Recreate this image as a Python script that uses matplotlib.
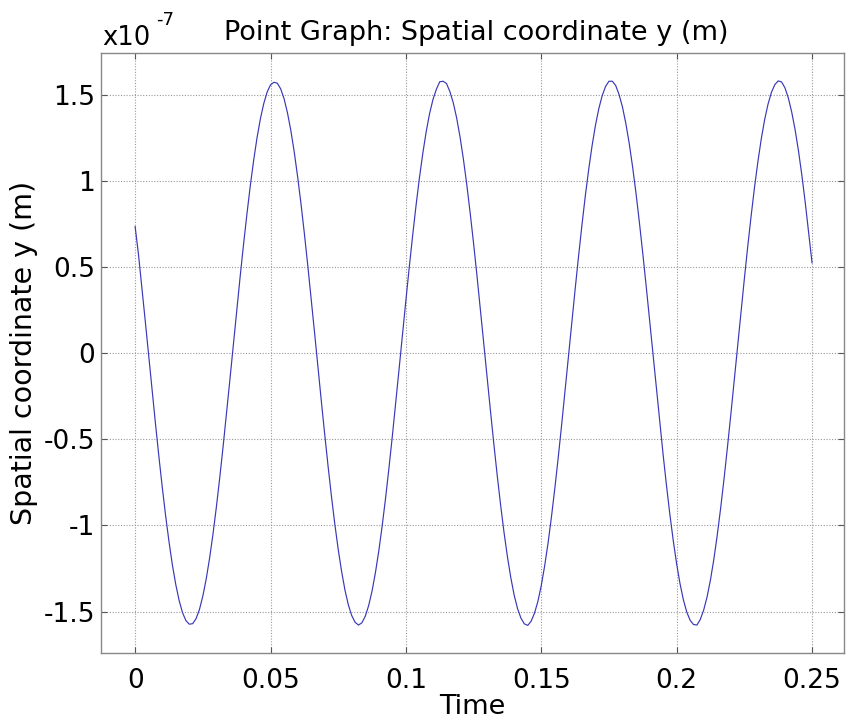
import matplotlib
matplotlib.use("Agg")
import matplotlib.pyplot as plt

# time samples (s), step 0.00125
time = [round(0.00125 * i, 5) for i in range(201)]

# spatial coordinate y, in units of 1e-7 m
y_e7 = [
    0.735, 0.571, 0.381, 0.185, -0.013, -0.212, -0.407, -0.596, -0.775, -0.942,
    -1.093, -1.228, -1.342, -1.435, -1.506, -1.552, -1.573, -1.570, -1.541, -1.488,
    -1.410, -1.311, -1.190, -1.051, -0.894, -0.723, -0.541, -0.350, -0.154, 0.045,
    0.243, 0.438, 0.625, 0.802, 0.967, 1.116, 1.248, 1.359, 1.448, 1.515,
    1.557, 1.572, 1.567, 1.534, 1.477, 1.396, 1.293, 1.169, 1.026, 0.868,
    0.695, 0.511, 0.319, 0.122, -0.077, -0.275, -0.468, -0.654, -0.830, -0.992,
    -1.138, -1.266, -1.375, -1.461, -1.523, -1.562, -1.578, -1.565, -1.527, -1.465,
    -1.381, -1.274, -1.147, -1.002, -0.841, -0.666, -0.481, -0.288, -0.090, 0.109,
    0.306, 0.499, 0.683, 0.857, 1.017, 1.160, 1.285, 1.390, 1.472, 1.531,
    1.575, 1.578, 1.565, 1.518, 1.453, 1.365, 1.255, 1.125, 0.977, 0.813,
    0.637, 0.450, 0.256, 0.058, -0.141, -0.337, -0.529, -0.712, -0.883, -1.041,
    -1.181, -1.303, -1.405, -1.483, -1.538, -1.571, -1.580, -1.556, -1.509, -1.441,
    -1.349, -1.235, -1.103, -0.952, -0.786, -0.608, -0.420, -0.225, -0.026, 0.173,
    0.369, 0.559, 0.740, 0.910, 1.064, 1.202, 1.321, 1.419, 1.494, 1.548,
    1.578, 1.578, 1.553, 1.500, 1.428, 1.332, 1.216, 1.079, 0.927, 0.758,
    0.578, 0.389, 0.193, -0.006, -0.204, -0.400, -0.588, -0.768, -0.936, -1.088,
    -1.223, -1.338, -1.432, -1.503, -1.551, -1.575, -1.578, -1.545, -1.490, -1.414,
    -1.315, -1.195, -1.056, -0.900, -0.730, -0.548, -0.358, -0.161, 0.038, 0.236,
    0.430, 0.618, 0.795, 0.961, 1.110, 1.243, 1.355, 1.445, 1.513, 1.558,
    1.580, 1.574, 1.540, 1.481, 1.399, 1.297, 1.174, 1.032, 0.874, 0.702,
    0.525,
]

xticks = [0, 0.05, 0.1, 0.15, 0.2, 0.25]
xtick_labels = ["0", "0.05", "0.1", "0.15", "0.2", "0.25"]
yticks = [-1.5, -1, -0.5, 0, 0.5, 1, 1.5]
ytick_labels = ["-1.5", "-1", "-0.5", "0", "0.5", "1", "1.5"]

fig = plt.figure(figsize=(8.46, 7.2), dpi=100)
ax = fig.add_axes([0.1194, 0.0931, 0.8782, 0.8333])

ax.plot(time, y_e7, color="#3838b8", lw=0.85)

ax.set_xlim(-0.0126, 0.2618)
ax.set_ylim(-1.74, 1.742)
ax.set_xticks(xticks)
ax.set_xticklabels(xtick_labels)
ax.set_yticks(yticks)
ax.set_yticklabels(ytick_labels)
ax.tick_params(axis="both", labelsize=19, direction="in", length=4, width=0.8,
               color="#555555", top=True, right=True)
ax.tick_params(axis="y", pad=4.5)
ax.tick_params(axis="x", pad=11)
ax.grid(True, linestyle=(0, (1, 1.5)), color="#999999", lw=0.8)
for s in ax.spines.values():
    s.set_color("#888888")
    s.set_linewidth(1.0)

ax.set_xlabel("Time", fontsize=19.5, labelpad=0)
ax.set_ylabel("Spatial coordinate y (m)", fontsize=20.5, labelpad=4)
ax.set_title("Point Graph: Spatial coordinate y (m)", fontsize=19.5, pad=9, x=0.505)

fig.text(0.121, 0.9375, "x10", fontsize=18.5, ha="left", va="baseline")
fig.text(0.184, 0.965, "-7", fontsize=13, ha="left", va="baseline")

fig.savefig("out.png", dpi=100)
